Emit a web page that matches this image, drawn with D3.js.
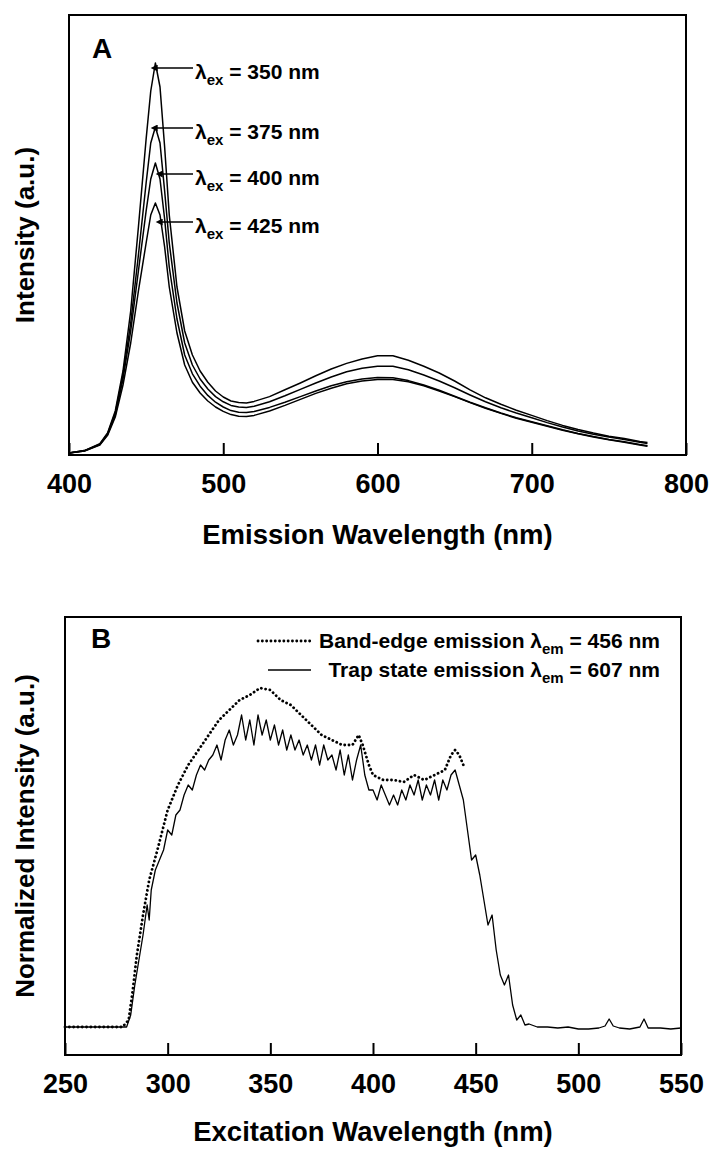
<!DOCTYPE html>
<html>
<head>
<meta charset="utf-8">
<script src="https://cdn.jsdelivr.net/npm/d3@7"></script>
<style>
    body { margin: 0; background: #fff; }
    svg text { font-family: "Liberation Sans", Arial, Helvetica, sans-serif; font-weight: bold; fill: #000; }
</style>
</head>
<body>
<div id="chart"></div>
<script>

// ---- panel A : emission spectra at 4 excitation wavelengths ----
const emWavelength = [400, 410, 420, 425, 430, 435, 440, 445, 450, 453, 456, 459, 462, 465, 470, 475, 480, 485, 490, 495,
    500, 505, 510, 515, 520, 530, 540, 550, 560, 570, 580, 590, 600, 610, 620, 630, 640, 650, 660, 670,
    680, 690, 700, 710, 720, 730, 740, 750, 760, 770, 775];

const em350 = [0.5, 1.1, 2.8, 5.5, 11, 21, 36, 57, 79, 91, 98, 92, 77, 60, 42, 31, 25, 21, 18.2, 16,
    14.5, 13.5, 13.1, 13, 13.4, 14.6, 16.3, 18, 19.8, 21.5, 22.9, 24, 24.8, 24.8, 23.7, 22.2, 20.5, 18.5, 16.3, 14.3,
    12.7, 11.2, 9.9, 8.6, 7.4, 6.4, 5.5, 4.7, 4.1, 3.4, 3.1];
const em375 = [0.5, 1.1, 2.7, 5.3, 10.5, 20, 33, 50, 68, 78, 82, 78, 66, 53, 38, 28, 22.5, 19, 16.5, 14.6,
    13.3, 12.4, 12, 11.9, 12.2, 13.3, 14.8, 16.4, 18, 19.5, 20.8, 21.7, 22.2, 22.2, 21.3, 20, 18.5, 16.8, 15, 13.3,
    11.8, 10.5, 9.3, 8.1, 7, 6, 5.2, 4.5, 3.9, 3.2, 2.9];
const em400 = [0.5, 1.0, 2.6, 5.1, 10, 19, 31, 46, 61, 69, 73, 69, 59, 47, 34, 25, 20.3, 17.2, 14.9, 13.2,
    12, 11.1, 10.7, 10.6, 10.9, 11.9, 13.2, 14.6, 16, 17.3, 18.3, 19, 19.4, 19.3, 18.6, 17.5, 16.2, 14.7, 13.2, 11.8,
    10.5, 9.3, 8.3, 7.3, 6.3, 5.4, 4.6, 3.9, 3.3, 2.6, 2.3];
const em425 = [0.5, 1.0, 2.5, 4.9, 9.5, 17.5, 28, 41, 53, 60, 63, 60, 52, 42, 30.5, 22.5, 18.2, 15.5, 13.5, 12,
    10.9, 10.1, 9.7, 9.6, 9.9, 11, 12.4, 13.9, 15.4, 16.7, 17.8, 18.5, 18.9, 18.9, 18.3, 17.3, 16, 14.6, 13.1, 11.7,
    10.4, 9.2, 8.2, 7.2, 6.2, 5.3, 4.5, 3.8, 3.2, 2.5, 2.2];

const excitationLabels = ["350", "375", "400", "425"];
const emTicks = [400, 500, 600, 700, 800];

// ---- panel B : excitation spectra ----
const bandEdgeWavelength = [250, 260, 270, 278, 281, 283, 285, 288, 291, 295, 300, 305, 310, 315, 320, 325, 330, 335, 340, 345,
    350, 355, 360, 365, 370, 375, 380, 385, 390, 393, 395, 398, 400, 405, 410, 415, 420, 425, 430, 435,
    438, 440, 442, 444];
const bandEdge = [7, 7, 7, 7, 8.75, 16.25, 25, 35, 43.75, 51.25, 61.25, 67.5, 72.5, 76.25, 80, 83.75, 86.25, 88.75, 90, 91.75,
    91.25, 88.75, 87.5, 85, 82.5, 80, 78.75, 77.5, 77.5, 80, 77.5, 72.5, 70, 68.75, 68.75, 68.25, 70, 68.75, 70, 71.25,
    75, 76.25, 75, 72.5];

const trapWavelength = [250, 280, 282, 284, 286, 288, 290, 291, 292, 294, 296, 298, 300, 302, 304, 306, 308, 310, 312, 314,
    316, 318, 320, 322, 324, 326, 328, 330, 332, 334, 336, 338, 340, 342, 344, 346, 348, 350, 352, 354,
    356, 358, 360, 362, 364, 366, 368, 370, 372, 374, 376, 378, 380, 382, 384, 386, 388, 390, 392, 394,
    396, 398, 400, 402, 404, 406, 408, 410, 412, 414, 416, 418, 420, 422, 424, 426, 428, 430, 432, 434,
    436, 438, 440, 442, 444, 446, 448, 450, 452, 454, 456, 458, 460, 462, 464, 466, 468, 470, 472, 474,
    476, 480, 485, 490, 495, 500, 505, 510, 513, 515, 517, 520, 525, 530, 532, 534, 540, 545, 550];
const trapState = [7, 7, 10, 17.5, 23.75, 30, 37.5, 33.75, 41.25, 46.25, 48.75, 51.25, 56.25, 55, 60, 61.25, 65, 67.5, 66.25, 70,
    72.5, 71.25, 73.75, 75, 77.5, 73.75, 78.75, 81.25, 77.5, 80, 85, 78.75, 83.75, 77.5, 85, 80, 83.75, 78.75, 82.5, 77.5,
    81.25, 76.25, 80, 76.25, 78.75, 75, 77.5, 73.75, 77.5, 72.5, 77.5, 73.75, 75, 71.25, 76.25, 70, 75, 68.75, 73.75, 77.5,
    70, 66.25, 66.25, 63.75, 67.5, 65, 62.5, 65, 62.5, 66.25, 63.75, 67.5, 65, 68.75, 63.75, 67.5, 65, 68.75, 63.75, 68.75,
    66.25, 70, 71.25, 67.5, 63.75, 56.25, 48.75, 50, 45, 38.75, 32.5, 35, 26.25, 20, 17.5, 20, 12.5, 8.75, 10, 7.5,
    7.75, 7, 7, 6.75, 7, 6.5, 6.5, 6.75, 7.25, 9, 7.25, 6.75, 6.5, 7, 9, 6.75, 6.75, 6.5, 6.75];

const exTicks = [250, 300, 350, 400, 450, 500, 550];

const legendB = [
    { name: "Band-edge emission", sub: "em", value: "456" },
    { name: "Trap state emission", sub: "em", value: "607" }
];

// ---------------------------------------------------------------

const svg = d3.select("#chart").append("svg")
    .attr("width", 711)
    .attr("height", 1151);

function drawPanel(cfg) {
    let g = svg.append("g")
        .attr("transform", "translate(" + cfg.left + "," + cfg.top + ")");

    let x = d3.scaleLinear().domain(cfg.xDomain).range([0, cfg.width]);
    let y = d3.scaleLinear().domain(cfg.yDomain).range([cfg.height, 0]);

    // x axis - ticks point inwards
    let axis = g.append("g")
        .attr("transform", "translate(0," + cfg.height + ")")
        .call(d3.axisBottom(x).tickValues(cfg.ticks).tickSize(-12).tickPadding(19).tickFormat(d3.format("d")));
    axis.select(".domain").remove();
    axis.selectAll(".tick line").attr("stroke", "#000").attr("stroke-width", 2);
    axis.selectAll(".tick text").attr("font-size", 27).attr("fill", "#000");

    // frame
    g.append("rect")
        .attr("width", cfg.width)
        .attr("height", cfg.height)
        .attr("fill", "none")
        .attr("stroke", "#000")
        .attr("stroke-width", 2);

    // axis titles
    g.append("text")
        .attr("x", cfg.width / 2)
        .attr("y", cfg.height + cfg.titleGap)
        .attr("text-anchor", "middle")
        .attr("font-size", 27.5)
        .text(cfg.xTitle);

    g.append("text")
        .attr("transform", "translate(" + (34 - cfg.left) + "," + (cfg.height / 2) + ") rotate(-90)")
        .attr("text-anchor", "middle")
        .attr("font-size", 26)
        .text(cfg.yTitle);

    // panel letter
    g.append("text")
        .attr("x", cfg.letterX)
        .attr("y", cfg.letterY)
        .attr("font-size", 28)
        .text(cfg.letter);

    return { g: g, x: x, y: y };
}

// ---- panel A ----
let panelA = drawPanel({
    left: 69, top: 15, width: 617, height: 440,
    xDomain: [400, 800], yDomain: [0, 110],
    ticks: emTicks, titleGap: 89,
    xTitle: "Emission Wavelength (nm)", yTitle: "Intensity (a.u.)",
    letter: "A", letterX: 23, letterY: 43
});

let emSeries = [em350, em375, em400, em425];
let lineA = d3.line()
    .x((d, i) => panelA.x(emWavelength[i]))
    .y(d => panelA.y(d));

panelA.g.selectAll(".em-line")
    .data(emSeries)
    .enter().append("path")
    .attr("class", "em-line")
    .attr("d", lineA)
    .attr("fill", "none")
    .attr("stroke", "#000")
    .attr("stroke-width", 1.5)
    .attr("stroke-linejoin", "round");

// arrow labels
svg.append("defs").append("marker")
    .attr("id", "arrow")
    .attr("viewBox", "0 0 10 10")
    .attr("refX", 1).attr("refY", 5)
    .attr("markerWidth", 11).attr("markerHeight", 7)
    .attr("markerUnits", "userSpaceOnUse")
    .attr("orient", "auto-start-reverse")
    .append("path")
    .attr("d", "M0,0 L10,5 L0,10 Z")
    .attr("fill", "#000");

let arrowDrop = [5, 1, 11, 19];
let tipX = [88, 88, 93, 93];

excitationLabels.forEach((lab, i) => {
    let peak = d3.max(emSeries[i]);
    let ay = panelA.y(peak) + arrowDrop[i];

    panelA.g.append("line")
        .attr("x1", tipX[i]).attr("y1", ay)
        .attr("x2", 124).attr("y2", ay)
        .attr("stroke", "#000")
        .attr("stroke-width", 1.5)
        .attr("marker-start", "url(#arrow)");

    let t = panelA.g.append("text")
        .attr("x", 126)
        .attr("y", ay + 11)
        .attr("font-size", 21);
    t.append("tspan").text("λ");
    t.append("tspan").attr("font-size", 15).attr("dy", 6).text("ex");
    t.append("tspan").attr("dy", -6).text(" = " + lab + " nm");
});

// ---- panel B ----
let panelB = drawPanel({
    left: 65, top: 617, width: 616, height: 438,
    xDomain: [250, 550], yDomain: [0, 109.5],
    ticks: exTicks, titleGap: 86,
    xTitle: "Excitation Wavelength (nm)", yTitle: "Normalized Intensity (a.u.)",
    letter: "B", letterX: 26, letterY: 31
});

let lineBandEdge = d3.line()
    .x((d, i) => panelB.x(bandEdgeWavelength[i]))
    .y(d => panelB.y(d));
let lineTrap = d3.line()
    .x((d, i) => panelB.x(trapWavelength[i]))
    .y(d => panelB.y(d));

panelB.g.append("path")
    .datum(trapState)
    .attr("d", lineTrap)
    .attr("fill", "none")
    .attr("stroke", "#000")
    .attr("stroke-width", 1.3)
    .attr("stroke-linejoin", "round");

panelB.g.append("path")
    .datum(bandEdge)
    .attr("d", lineBandEdge)
    .attr("fill", "none")
    .attr("stroke", "#000")
    .attr("stroke-width", 2.8)
    .attr("stroke-linecap", "round")
    .attr("stroke-dasharray", "0.1,4.2");

// legend
let legendY = [31, 60];
let sampleX = [193, 203];
legendB.forEach((d, i) => {
    let t = panelB.g.append("text")
        .attr("x", 595)
        .attr("y", legendY[i])
        .attr("text-anchor", "end")
        .attr("font-size", 21);
    t.append("tspan").text(d.name + " λ");
    t.append("tspan").attr("font-size", 15).attr("dy", 6).text(d.sub);
    t.append("tspan").attr("dy", -6).text(" = " + d.value + " nm");

    let s = panelB.g.append("line")
        .attr("x1", sampleX[i]).attr("x2", 246)
        .attr("y1", legendY[i] - 7).attr("y2", legendY[i] - 7)
        .attr("stroke", "#000");
    if (i === 0) {
        s.attr("stroke-width", 2.8).attr("stroke-linecap", "round").attr("stroke-dasharray", "0.1,4.2");
    } else {
        s.attr("stroke-width", 1.3);
    }
});

</script>
</body>
</html>
